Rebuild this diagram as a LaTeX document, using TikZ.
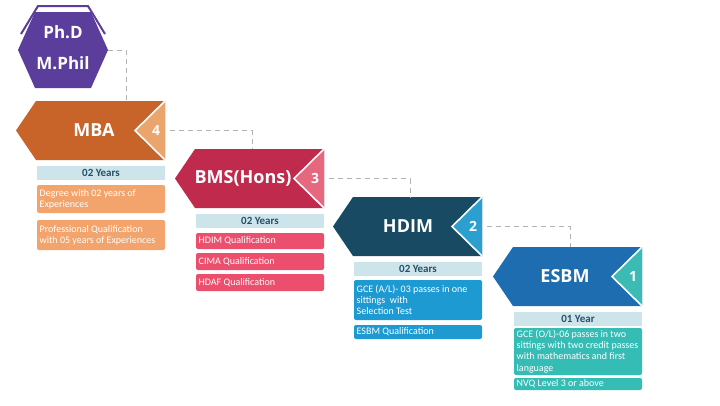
\documentclass[tikz,border=0pt]{standalone}
\usepackage{fontspec}
\setmainfont{Carlito}
\newfontfamily\titlefont{Open Sans}
\definecolor{hexpurple}{HTML}{5B3D9C}
\definecolor{mbamain}{HTML}{C8632A}
\definecolor{mbalight}{HTML}{EBA56C}
\definecolor{mbabox}{HTML}{F3A46C}
\definecolor{bmsmain}{HTML}{C02A4C}
\definecolor{bmslight}{HTML}{E5687F}
\definecolor{bmsbox}{HTML}{EC4F6D}
\definecolor{hdimmain}{HTML}{184A63}
\definecolor{hdimlight}{HTML}{2A9FD0}
\definecolor{hdimbox}{HTML}{1E9AD2}
\definecolor{esbmmain}{HTML}{1E6DB0}
\definecolor{esbmlight}{HTML}{3BBBB3}
\definecolor{esbmbox}{HTML}{34BCB5}
\definecolor{barblue}{HTML}{CDE4EA}
\definecolor{bartext}{HTML}{24506A}
\tikzset{
  dashline/.style={draw=black!30, line width=1pt, dash pattern=on 5pt off 4pt},
  boxtext/.style={anchor=west, text=white, align=left, inner sep=0pt,
    font=\fontsize{10}{11.2}\selectfont},
  titletext/.style={text=white, inner sep=0pt, font=\titlefont\bfseries\fontsize{18}{18}\selectfont},
  numtext/.style={text=white, inner sep=0pt, font=\titlefont\bfseries\fontsize{14}{14}\selectfont},
  yeartext/.style={text=bartext, inner sep=0pt, font=\bfseries\fontsize{11}{11}\selectfont},
  hextext/.style={text=white, inner sep=0pt, font=\titlefont\bfseries\fontsize{17}{17}\selectfont}
}
% #1 x, #2 y, #3 name, #4 main colour, #5 light colour, #6 title, #7 title x, #8 number, #9 years
\newcommand\stagebanner[9]{%
  \begin{scope}[shift={(#1,#2)}]
    \fill[#4] (0,29.5) -- (20,0) -- (149,0) -- (149,59) -- (20,59) -- cycle;
    \fill[#5] (149,0) -- (119,29.5) -- (149,59) -- cycle;
    \draw[white, line width=1.6pt] (149,0) -- (119,29.5) -- (149,59);
    \node[titletext] (#3title) at (#7,29.5) {#6};
    \node[numtext] (#3num) at (140,29.5) {#8};
    \fill[barblue] (21,64.5) rectangle (149,79);
    \node[yeartext] (#3years) at (85,71.8) {#9};
    \coordinate (#3top) at (77,0);
    \coordinate (#3right) at (154,29.5);
  \end{scope}}
% #1 x, #2 y, #3 top, #4 bottom, #5 colour, #6 name, #7 text
\newcommand\infobox[7]{%
  \begin{scope}[shift={(#1,#2)}]
    \fill[#5, rounded corners=2pt] (21,#3) rectangle (149,#4);
    \node[boxtext] (#6) at (23.5,{(#3+#4)/2}) {#7};
  \end{scope}}
\begin{document}
\begin{tikzpicture}[x=1pt,y=-1pt]
  \useasboundingbox[fill=white] (0,0) rectangle (720,405);
  % hexagon
  \fill[hexpurple] (18,50) -- (35,12) -- (91,12) -- (108,50) -- (91,88) -- (35,88) -- cycle;
  \draw[hexpurple, line width=2pt] (21,34) -- (38,6) -- (88,6) -- (105,34);
  \node[hextext] (phd) at (63,32) {Ph.D};
  \node[hextext] (mphil) at (63,63) {M.Phil};
  \coordinate (hexright) at (108,50);
  \coordinate (mbaentry) at (126,101);
  % stages
  \stagebanner{16}{101}{mba}{mbamain}{mbalight}{MBA}{78}{4}{02 Years}
  \stagebanner{175}{149}{bms}{bmsmain}{bmslight}{BMS(Hons)}{68}{3}{02 Years}
  \stagebanner{333}{197}{hdim}{hdimmain}{hdimlight}{HDIM}{75}{2}{02 Years}
  \stagebanner{493}{247}{esbm}{esbmmain}{esbmlight}{ESBM}{72}{1}{01 Year}
  % boxes
  \infobox{16}{101}{84}{112}{mbabox}{mbaA}{Degree with 02 years of\\Experiences}
  \infobox{16}{101}{119}{149}{mbabox}{mbaB}{Professional Qualification\\with 05 years of Experiences}
  \infobox{175}{149}{84}{100}{bmsbox}{bmsA}{HDIM Qualification}
  \infobox{175}{149}{104}{121}{bmsbox}{bmsB}{CIMA Qualification}
  \infobox{175}{149}{125}{142}{bmsbox}{bmsC}{HDAF Qualification}
  \infobox{333}{197}{83}{123}{hdimbox}{hdimA}{GCE (A/L)- 03 passes in one\\sittings\ \ with\\Selection Test}
  \infobox{333}{197}{128}{142}{hdimbox}{hdimB}{ESBM Qualification}
  \infobox{493}{247}{81}{128}{esbmbox}{esbmA}{GCE (O/L)-06 passes in two\\sittings with two credit passes\\with mathematics and first\\language}
  \infobox{493}{247}{131}{143}{esbmbox}{esbmB}{NVQ Level 3 or above}
  % connectors
  \draw[dashline] (hexright) -| (mbaentry);
  \draw[dashline] (mbaright) -| (bmstop);
  \draw[dashline] (bmsright) -| (hdimtop);
  \draw[dashline] (hdimright) -| (esbmtop);
\end{tikzpicture}
\end{document}
